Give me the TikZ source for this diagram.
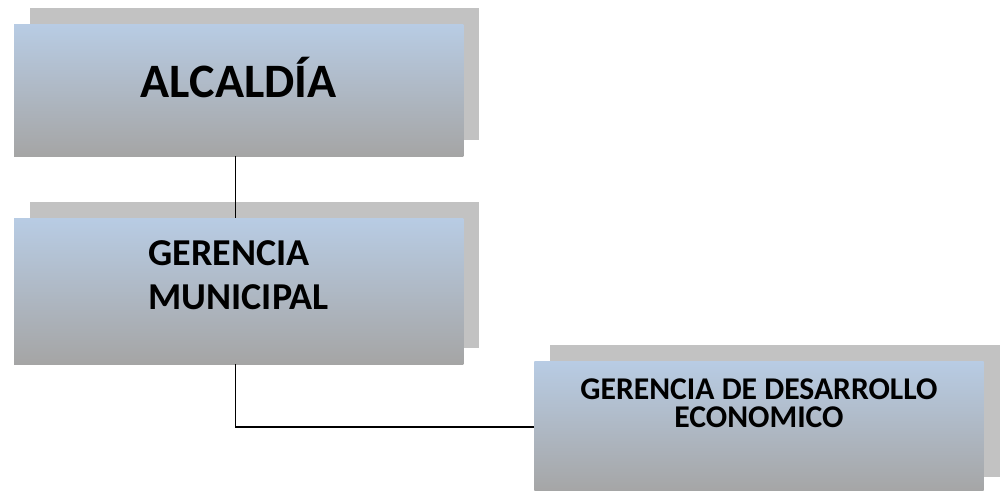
\documentclass[tikz,border=0pt]{standalone}
\usepackage{fontspec}
\setmainfont{Carlito}
\usetikzlibrary{positioning,shadows}
\definecolor{boxblue}{HTML}{B8CCE4}
\definecolor{boxgray}{HTML}{A5A5A5}
\definecolor{shadowgray}{HTML}{C2C2C2}

\begin{document}
\begin{tikzpicture}[x=0.75pt,y=-0.75pt]

\tikzset{
	unit/.style={
		rectangle,
		top color=boxblue,
		bottom color=boxgray,
		general shadow={fill=shadowgray,shadow xshift=12pt,shadow yshift=12pt},
		minimum width=337pt,
		inner sep=0pt,
		outer sep=0pt,
		text centered},
	link/.style={
		draw=black,
		line width=0.8pt}
}

\useasboundingbox (0,0) rectangle (1001,490);
\clip (0,0) rectangle (1001,490);

\node[unit,anchor=north west,font=\fontsize{36pt}{42pt}\selectfont\bfseries,
	text height=54.75pt,text depth=44.25pt] (alc) at (14,24) {ALCALDÍA};

\node[unit,below=46.5pt of alc.south west,anchor=north west,
	font=\fontsize{28.5pt}{33pt}\selectfont\bfseries,
	text height=35.25pt,text depth=74.25pt] (gm) {
	\begin{tabular}[t]{@{}l@{}}
	GERENCIA\\
	MUNICIPAL
	\end{tabular}};

\node[unit,right=53.25pt of gm.south east,anchor=north west,yshift=2.25pt,
	font=\fontsize{23.75pt}{20pt}\selectfont\bfseries,
	text height=28.5pt,text depth=70.5pt] (gde) {
	\begin{tabular}[t]{@{}c@{}}
	GERENCIA DE DESARROLLO\\
	ECONOMICO
	\end{tabular}};

\draw[link] ([xshift=-2.6pt]alc.south) -- ([xshift=-2.6pt]gm.north);
\draw[link] ([xshift=-2.6pt]gm.south) |- (gde.west);

\end{tikzpicture}
\end{document}
